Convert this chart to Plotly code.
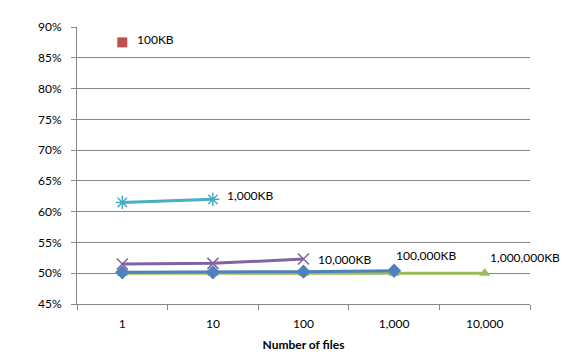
import plotly.graph_objects as go

files = ["1", "10", "100", "1,000", "10,000"]
s100kb = [87.5, None, None, None, None]
s1000kb = [61.5, 62.0, None, None, None]
s10000kb = [51.5, 51.6, 52.3, None, None]
s100000kb = [50.15, 50.15, 50.25, 50.4, None]
s1000000kb = [50.0, 50.0, 50.0, 50.0, 50.0]
y_ticks = [45, 50, 55, 60, 65, 70, 75, 80, 85, 90]
y_tick_labels = [f"{v}%" for v in y_ticks]

# name, values, color, marker, label offset (px)
series = [
    ("1,000,000KB", s1000000kb, "#9BBB59", dict(symbol="triangle-up", size=10), (3, 16)),
    ("100,000KB", s100000kb, "#4F81BD", dict(symbol="diamond", size=11), (0, 15)),
    ("10,000KB", s10000kb, "#8064A2", dict(symbol="x-thin-open", size=11, line=dict(width=1.5, color="#8064A2")), (12, 0)),
    ("1,000KB", s1000kb, "#4BACC6", dict(symbol="asterisk-open", size=11, line=dict(width=1.5, color="#4BACC6")), (12, 4)),
    ("100KB", s100kb, "#C0504D", dict(symbol="square", size=10), (13, 3)),
]

font = "Lato, 'Liberation Sans', sans-serif"
fig = go.Figure()
annotations = []
for name, vals, color, marker, (dx, dy) in series:
    fig.add_trace(go.Scatter(
        x=files, y=vals, name=name, mode="lines+markers",
        line=dict(color=color, width=3),
        marker=dict(color=color, **marker),
        cliponaxis=False,
    ))
    last = max(i for i, v in enumerate(vals) if v is not None)
    annotations.append(dict(
        x=last, y=vals[last], xref="x", yref="y", text=name,
        showarrow=False, xanchor="left", yanchor="middle",
        xshift=dx, yshift=dy, font=dict(family=font, size=12, color="#000000"),
    ))

# page body has an 8px margin, so the figure is placed at (8, 8)
fig.update_layout(
    width=561, height=354,
    margin=dict(l=69, r=39, t=19, b=58),
    paper_bgcolor="white", plot_bgcolor="white",
    showlegend=False,
    font=dict(family=font, size=12, color="#000000"),
    annotations=annotations,
    xaxis=dict(
        type="category", range=[-0.5, 4.5],
        tickson="boundaries", ticks="outside", ticklen=5, tickcolor="#868686",
        ticklabelstandoff=9,
        showline=True, linecolor="#868686", linewidth=1,
        showgrid=False, zeroline=False,
        title=dict(text="<b>Number of files</b>", font=dict(size=12), standoff=10),
        tickfont=dict(size=12),
    ),
    yaxis=dict(
        range=[45, 90], tickvals=y_ticks, ticktext=y_tick_labels,
        ticks="outside", ticklen=5, tickcolor="#868686",
        ticklabelstandoff=7,
        showline=True, linecolor="#868686", linewidth=1,
        showgrid=True, gridcolor="#868686", gridwidth=1,
        zeroline=False, tickfont=dict(size=12),
    ),
)

fig.write_html("out.html", config={"displayModeBar": False})
